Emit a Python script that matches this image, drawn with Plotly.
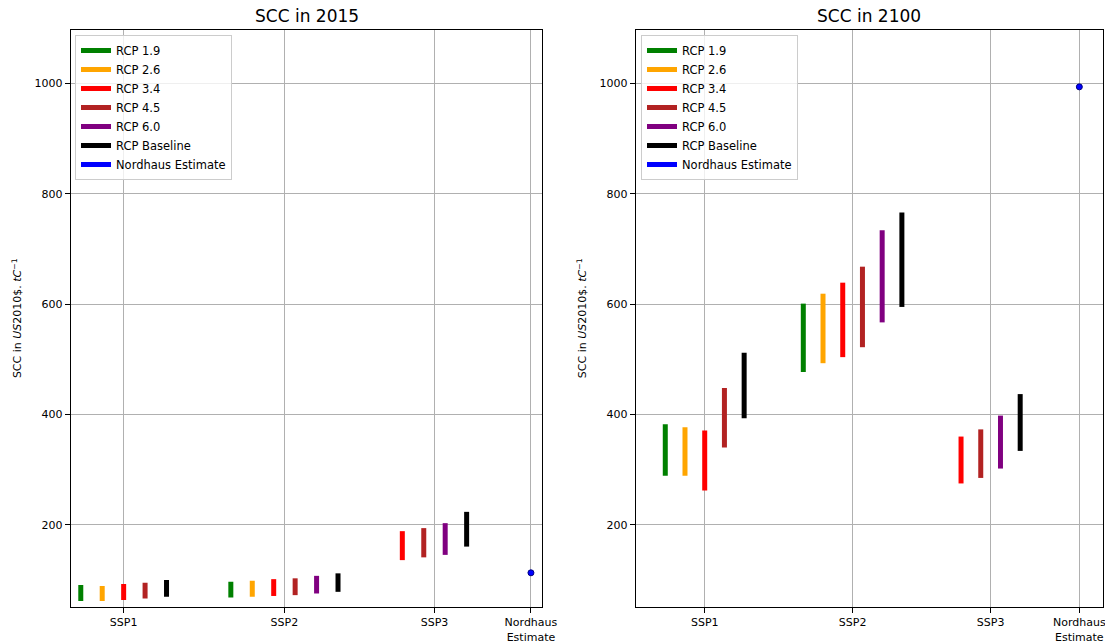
import plotly.graph_objects as go

# ---------------- data ----------------
ssp_labels = ["SSP1", "SSP2", "SSP3"]
rcp_names = ["RCP 1.9", "RCP 2.6", "RCP 3.4", "RCP 4.5", "RCP 6.0", "RCP Baseline"]
rcp_colors = ["green", "orange", "red", "firebrick", "purple", "black"]

# [low, high] of SCC per SSP (None = scenario not available)
scc2015_rcp19 = [[62, 91], [68, 97], None]
scc2015_rcp26 = [[62, 89], [69.5, 98.5], None]
scc2015_rcp34 = [[63.5, 92.5], [71, 101.5], [136, 188.5]]
scc2015_rcp45 = [[66.5, 95], [72.5, 103], [141, 194]]
scc2015_rcp60 = [None, [75.5, 107.5], [145.5, 203]]
scc2015_base = [[69.5, 100], [78.5, 112], [160.5, 223.5]]
nordhaus_2015 = 113

scc2100_rcp19 = [[289, 382.5], [477, 601], None]
scc2100_rcp26 = [[289, 377], [493, 619], None]
scc2100_rcp34 = [[262, 371], [504, 639], [275, 360]]
scc2100_rcp45 = [[340, 448], [522, 668], [285, 373]]
scc2100_rcp60 = [None, [567, 734], [302, 398]]
scc2100_base = [[393, 512], [595, 766], [334, 437]]
nordhaus_2100 = 994

nordhaus_label = "Nordhaus<br>Estimate"

panels = [
    dict(title="SCC in 2015",
         series=[scc2015_rcp19, scc2015_rcp26, scc2015_rcp34, scc2015_rcp45, scc2015_rcp60, scc2015_base],
         nordhaus=nordhaus_2015, xa="x", ya="y", legend="legend"),
    dict(title="SCC in 2100",
         series=[scc2100_rcp19, scc2100_rcp26, scc2100_rcp34, scc2100_rcp45, scc2100_rcp60, scc2100_base],
         nordhaus=nordhaus_2100, xa="x2", ya="y2", legend="legend2"),
]

FONT = "DejaVu Sans"
W, H = 1105, 644

fig = go.Figure()

tick_positions = None
for p in panels:
    series = p["series"]
    # positions: consecutive slots per SSP group, gap of 2 between groups
    pos = 0
    xpos = {}
    ticks = []
    for s in range(len(ssp_labels)):
        group = []
        for r in range(len(rcp_names)):
            if series[r][s] is not None:
                xpos[(r, s)] = pos
                group.append(pos)
                pos += 1
        ticks.append(sum(group) / len(group))
        pos += 2
    nord_x = pos
    tick_positions = ticks + [nord_x]

    for r, name in enumerate(rcp_names):
        xs, ys = [], []
        for s in range(len(ssp_labels)):
            v = series[r][s]
            if v is None:
                continue
            xs += [xpos[(r, s)], xpos[(r, s)], None]
            ys += [v[0], v[1], None]
        fig.add_trace(go.Scatter(
            x=xs, y=ys, mode="lines", name=name,
            line=dict(color=rcp_colors[r], width=5),
            xaxis=p["xa"], yaxis=p["ya"], legend=p["legend"],
            hoverinfo="skip"))
    # legend entry for Nordhaus (line sample)
    fig.add_trace(go.Scatter(
        x=[None], y=[None], mode="lines", name="Nordhaus Estimate",
        line=dict(color="blue", width=5),
        xaxis=p["xa"], yaxis=p["ya"], legend=p["legend"]))
    fig.add_trace(go.Scatter(
        x=[nord_x], y=[p["nordhaus"]], mode="markers", showlegend=False,
        marker=dict(color="blue", size=6, line=dict(color="#000080", width=1)),
        xaxis=p["xa"], yaxis=p["ya"]))

# ---------------- layout ----------------
left_dom = [70.7 / W, 542.3 / W]
right_dom = [635.7 / W, 1103 / W]
y_dom = [(H - 607) / H, (H - 29.5) / H]

def xaxis_cfg(dom, rng, anchor):
    return dict(domain=dom, range=rng, anchor=anchor, automargin=False,
                tickmode="array", tickvals=tick_positions,
                ticktext=ssp_labels + [nordhaus_label],
                ticklabeloverflow="allow",
                showgrid=True, gridcolor="#b0b0b0", gridwidth=1,
                showline=True, linecolor="black", linewidth=1, mirror=True,
                ticks="outside", ticklen=5, tickcolor="black",
                tickfont=dict(family=FONT, size=11, color="black"),
                zeroline=False, fixedrange=True)

ytitle = "SCC in <i>US</i>2010$. <i>tC</i><sup>−1</sup>"

def yaxis_cfg(anchor):
    return dict(domain=y_dom, range=[51, 1098], anchor=anchor, automargin=False,
                tickvals=[200, 400, 600, 800, 1000],
                showgrid=True, gridcolor="#b0b0b0", gridwidth=1,
                showline=True, linecolor="black", linewidth=1, mirror=True,
                ticks="outside", ticklen=5, tickcolor="black",
                tickfont=dict(family=FONT, size=11, color="black"),
                title=dict(text=ytitle, font=dict(family=FONT, size=11, color="black"), standoff=10),
                zeroline=False, fixedrange=True)

legend_common = dict(
    bgcolor="rgba(255,255,255,0.8)", bordercolor="#cccccc", borderwidth=1,
    font=dict(family=FONT, size=11.5, color="black"),
    xanchor="left", yanchor="top", y=1 - 35 / H, tracegroupgap=0)

fig.update_layout(
    width=W, height=H,
    margin=dict(l=0, r=0, t=0, b=0, autoexpand=False),
    paper_bgcolor="white", plot_bgcolor="white",
    font=dict(family=FONT, color="black"),
    showlegend=True,
    xaxis=xaxis_cfg(left_dom, [-0.47, 21.53], "y"),
    xaxis2=xaxis_cfg(right_dom, [-1.5, 22.2], "y2"),
    yaxis=yaxis_cfg("x"),
    yaxis2=yaxis_cfg("x2"),
    legend=dict(x=75 / W, **legend_common),
    legend2=dict(x=641 / W, **legend_common),
    annotations=[
        dict(text=panels[0]["title"], x=sum(left_dom) / 2, y=1 - 16 / H,
             xref="paper", yref="paper", xanchor="center", yanchor="middle",
             showarrow=False, font=dict(family=FONT, size=17, color="black")),
        dict(text=panels[1]["title"], x=sum(right_dom) / 2, y=1 - 16 / H,
             xref="paper", yref="paper", xanchor="center", yanchor="middle",
             showarrow=False, font=dict(family=FONT, size=17, color="black")),
    ],
)

fig.write_html("out.html")
